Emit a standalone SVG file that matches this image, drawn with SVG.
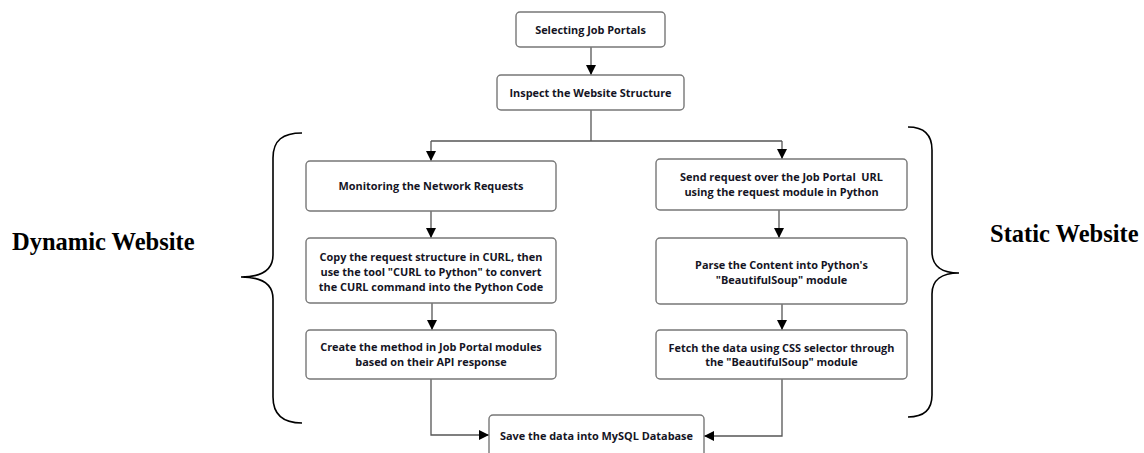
<svg xmlns="http://www.w3.org/2000/svg" width="1144" height="453" viewBox="0 0 1144 453">
<defs>
<style>
.box{fill:#fff;stroke:#777;stroke-width:1.4}
.t{font-family:"Open Sans","DejaVu Sans",sans-serif;font-weight:700;font-size:10.9px;fill:#151525;text-anchor:middle}
.c{fill:none;stroke:#555;stroke-width:1.3}
.br{fill:none;stroke:#000;stroke-width:1.6}
.lbl{font-family:"Liberation Serif","Times New Roman",serif;font-weight:700;font-size:24.5px;fill:#000}
</style>
<marker id="ah" viewBox="0 0 10 10" refX="10" refY="5" markerWidth="10" markerHeight="10" markerUnits="userSpaceOnUse" orient="auto">
<path d="M0,0 L10,5 L0,10 Z" fill="#000"/>
</marker>
</defs>
<rect width="1144" height="453" fill="#fff"/>

<g id="connectors">
<path class="c" d="M591,47 V75" marker-end="url(#ah)"/>
<path class="c" d="M591,110 V141"/>
<path class="c" d="M431,141 H782"/>
<path class="c" d="M431,141 V161" marker-end="url(#ah)"/>
<path class="c" d="M782,141 V159" marker-end="url(#ah)"/>
<path class="c" d="M431,211 V238" marker-end="url(#ah)"/>
<path class="c" d="M432,303 V330" marker-end="url(#ah)"/>
<path class="c" d="M431,379 V435 H489" marker-end="url(#ah)"/>
<path class="c" d="M779,210 V238" marker-end="url(#ah)"/>
<path class="c" d="M782,304 V330" marker-end="url(#ah)"/>
<path class="c" d="M782,379 V436 H704" marker-end="url(#ah)"/>
</g>

<g id="n1"><rect class="box" x="516" y="12" width="149" height="35" rx="4"/><text class="t" x="590.5" y="33.5">Selecting Job Portals</text></g>
<g id="n2"><rect class="box" x="497" y="75" width="187" height="35" rx="4"/><text class="t" x="590.5" y="96.5">Inspect the Website Structure</text></g>
<g id="n3"><rect class="box" x="306" y="161" width="250" height="50" rx="4"/><text class="t" x="431" y="190">Monitoring the Network Requests</text></g>
<g id="n4"><rect class="box" x="306" y="238" width="250" height="65" rx="4"/><text class="t" x="431" y="261">Copy the request structure in CURL, then</text><text class="t" x="431" y="276">use the tool "CURL to Python" to convert</text><text class="t" x="431" y="291">the CURL command into the Python Code</text></g>
<g id="n5"><rect class="box" x="306" y="330" width="250" height="49" rx="4"/><text class="t" x="431" y="351">Create the method in Job Portal modules</text><text class="t" x="431" y="366">based on their API response</text></g>
<g id="n6"><rect class="box" x="656" y="159" width="251" height="51" rx="4"/><text class="t" x="781.5" y="181" xml:space="preserve">Send request over the Job Portal&#160; URL</text><text class="t" x="781.5" y="196">using the request module in Python</text></g>
<g id="n7"><rect class="box" x="656" y="238" width="251" height="66" rx="4"/><text class="t" x="781.5" y="269">Parse the Content into Python's</text><text class="t" x="781.5" y="284">"BeautifulSoup" module</text></g>
<g id="n8"><rect class="box" x="656" y="330" width="251" height="49" rx="4"/><text class="t" x="781.5" y="352">Fetch the data using CSS selector through</text><text class="t" x="781.5" y="366">the "BeautifulSoup" module</text></g>
<g id="n9"><rect class="box" x="489" y="415" width="215" height="50" rx="4"/><text class="t" x="596.5" y="440">Save the data into MySQL Database</text></g>

<g id="braces">
<path class="br" d="M302,133 C283,133 273,140 273,158 V255 C273,270 262,277 241,277 C262,277 273,284 273,299 V397 C273,415 283,423 302,423"/>
<path class="br" d="M908,127 C924,127 932,134 932,150 V252 C932,266 942,273 959,273 C942,273 932,280 932,294 V395 C932,410 924,417 908,417"/>
</g>

<text class="lbl" x="12" y="250">Dynamic Website</text>
<text class="lbl" x="990" y="242">Static Website</text>
</svg>
